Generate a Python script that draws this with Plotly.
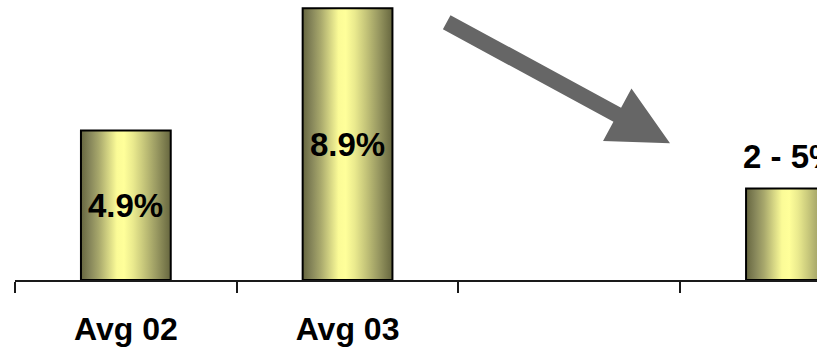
import math
import plotly.graph_objects as go

categories = ["Avg 02", "Avg 03", "", "Est 04"]
values = [4.9, 8.9, None, 3.0]
bar_labels = ["4.9%", "8.9%", "", "2 - 5%"]
label_inside = [True, True, False, False]

W, H = 817, 353
ML, MR, MT, MB = 15, 0, 0, 73
cat_px = 221.7
plot_w = W - ML - MR
plot_h = H - MT - MB
x_range = [-0.5, -0.5 + plot_w / cat_px]
y_range = [0, 9.17]
bar_w = 0.405

grad = [[0.0, "#66663f"], [0.1, "#86865a"], [0.2, "#a8a86c"], [0.3, "#d2d282"],
        [0.4, "#fbfb97"], [0.48, "#ffff9a"], [0.58, "#eaea8e"], [0.7, "#c6c67a"],
        [0.84, "#9a9a62"], [1.0, "#66663f"]]

FONT = "Liberation Sans, Arial"

fig = go.Figure()
for i, (c, v) in enumerate(zip(categories, values)):
    if v is None:
        continue
    x0, x1 = i - bar_w / 2, i + bar_w / 2
    fig.add_trace(go.Scatter(
        x=[x0, x0, x1, x1, x0], y=[0, v, v, 0, 0],
        mode="lines", fill="toself",
        fillgradient=dict(type="horizontal", colorscale=grad),
        line=dict(color="black", width=2),
        hoverinfo="skip", showlegend=False, cliponaxis=False))

for i, (v, t, inside) in enumerate(zip(values, bar_labels, label_inside)):
    if v is None or not t:
        continue
    fig.add_annotation(
        x=i, y=(v / 2 if inside else v), xref="x", yref="y",
        yshift=(0 if inside else 32), text=t, showarrow=False,
        font=dict(family=FONT, size=33, color="black", weight="bold"),
        xanchor="center", yanchor="middle")

# decorative arrow (pixel coordinates converted to paper)
sx, sy = 446.7, 22.2
tx, ty = 670.0, 143.3
L = math.hypot(tx - sx, ty - sy)
ux, uy = (tx - sx) / L, (ty - sy) / L
px_, py_ = -uy, ux
hw, hb, hl = 8.0, 29.8, 60.0
bx, by = tx - ux * hl, ty - uy * hl
pts = [(sx + px_ * hw, sy + py_ * hw), (bx + px_ * hw, by + py_ * hw),
       (bx + px_ * hb, by + py_ * hb), (tx, ty),
       (bx - px_ * hb, by - py_ * hb), (bx - px_ * hw, by - py_ * hw),
       (sx - px_ * hw, sy - py_ * hw)]

def to_paper(p):
    return ((p[0] - ML) / plot_w, 1 - (p[1] - MT) / plot_h)

path = "M " + " L ".join(f"{a:.5f},{b:.5f}" for a, b in map(to_paper, pts)) + " Z"
fig.add_shape(type="path", path=path, xref="paper", yref="paper",
              fillcolor="#666666", line=dict(width=0), layer="above")

fig.update_xaxes(
    range=x_range, tickmode="array", tickvals=list(range(len(categories))),
    ticktext=categories, ticks="", showgrid=False, zeroline=False,
    showline=True, linecolor="#1a1a1a", linewidth=1.5,
    tickfont=dict(family=FONT, size=32, color="black", weight="bold"),
    ticklabelstandoff=20, automargin=False,
    minor=dict(tick0=-0.5, dtick=1, ticks="outside", ticklen=11, tickwidth=1.5,
               tickcolor="#1a1a1a", showgrid=False))
fig.update_yaxes(range=y_range, visible=False, showgrid=False, zeroline=False)

fig.update_layout(
    width=W, height=H, margin=dict(l=ML, r=MR, t=MT, b=MB, pad=0),
    plot_bgcolor="white", paper_bgcolor="white", showlegend=False)

fig.write_html("out.html", config={"displayModeBar": False},
               post_script="document.body.style.margin='0';document.body.style.overflow='hidden';")
